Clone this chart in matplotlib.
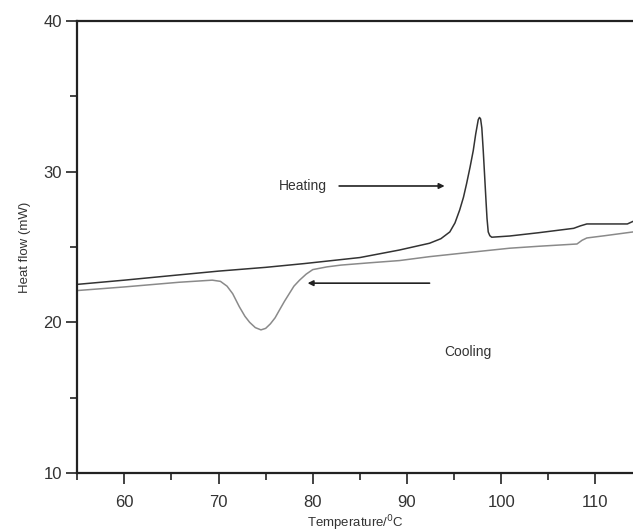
import matplotlib.pyplot as plt
from matplotlib.ticker import MultipleLocator

plt.rcParams['font.family'] = ['Liberation Sans', 'DejaVu Sans']

# heating run (upper, dark)
heat_t = [55, 60, 65.8, 70, 75, 79.1, 85, 89.2, 92.4, 93.6, 94.55, 95.1, 95.6,
          96.0, 96.33, 96.7, 97.04, 97.3, 97.57, 97.7, 97.82, 97.95, 98.1,
          98.25, 98.39, 98.5, 98.63, 98.8, 99.0, 100.9, 104, 107.7, 108.4,
          109.1, 111, 113.4, 114]
heat_q = [22.52, 22.8, 23.15, 23.4, 23.65, 23.9, 24.3, 24.8, 25.25, 25.55,
          26.0, 26.6, 27.46, 28.3, 29.2, 30.3, 31.4, 32.5, 33.45, 33.6, 33.5,
          32.9, 31.4, 29.7, 28.1, 26.9, 26.0, 25.75, 25.65, 25.73, 25.95,
          26.24, 26.4, 26.53, 26.53, 26.53, 26.7]

# cooling run (lower, grey)
cool_t = [55, 60, 65.8, 69.33, 70.2, 70.9, 71.5, 72.2, 72.8, 73.3, 73.9,
          74.5, 75.0, 75.5, 76.0, 76.45, 77.0, 77.5, 78.0, 78.6, 79.3, 80.0,
          81.5, 83, 86, 89.2, 92.4, 96, 100.9, 104, 108.05, 108.6, 109.1,
          111, 114]
cool_q = [22.11, 22.35, 22.66, 22.8, 22.72, 22.4, 21.9, 21.04, 20.4, 20.0,
          19.65, 19.5, 19.6, 19.9, 20.3, 20.8, 21.4, 21.9, 22.4, 22.8, 23.2,
          23.5, 23.68, 23.8, 23.95, 24.1, 24.36, 24.6, 24.92, 25.05, 25.2,
          25.45, 25.6, 25.75, 26.0]

fig = plt.figure(figsize=(6.33, 5.32), dpi=100)
ax = fig.add_axes([0.1221, 0.1109, 0.8779, 0.8496])

ax.plot(heat_t, heat_q, color='#333333', lw=1.1)
ax.plot(cool_t, cool_q, color='#8a8a8a', lw=1.1)

# arrows + labels
ax.annotate('', xy=(94.0, 29.05), xytext=(82.8, 29.05),
            arrowprops=dict(arrowstyle='-|>', color='#222222', lw=1.2,
                            mutation_scale=8, shrinkA=0, shrinkB=0))
ax.annotate('', xy=(79.45, 22.6), xytext=(92.4, 22.6),
            arrowprops=dict(arrowstyle='-|>', color='#222222', lw=1.2,
                            mutation_scale=8, shrinkA=0, shrinkB=0))
ax.text(81.55, 29.05, 'Heating', fontsize=10, color='#333333',
        ha='right', va='center')
ax.text(96.5, 18.06, 'Cooling', fontsize=10, color='#333333',
        ha='center', va='center')

ax.set_xlim(55, 114)
ax.set_ylim(10, 40)
ax.xaxis.set_major_locator(MultipleLocator(10))
ax.xaxis.set_minor_locator(MultipleLocator(5))
ax.yaxis.set_major_locator(MultipleLocator(10))
ax.yaxis.set_minor_locator(MultipleLocator(5))
ax.tick_params(which='major', direction='out', length=8, width=1.2,
               labelsize=12, labelcolor='#333333', color='#222222')
ax.tick_params(which='minor', direction='out', length=5, width=1.2,
               color='#222222')
ax.tick_params(axis='x', which='major', pad=8)
ax.tick_params(axis='y', which='major', pad=3)
ax.spines['right'].set_visible(False)
for s in ['left', 'bottom', 'top']:
    ax.spines[s].set_linewidth(1.6)
    ax.spines[s].set_color('#222222')

ax.set_xlabel('Temperature/$^0$C', fontsize=9.5, color='#333333', labelpad=2)
ax.set_ylabel('Heat flow (mW)', fontsize=9.5, color='#333333', labelpad=9)

fig.savefig('out.png', dpi=100)
